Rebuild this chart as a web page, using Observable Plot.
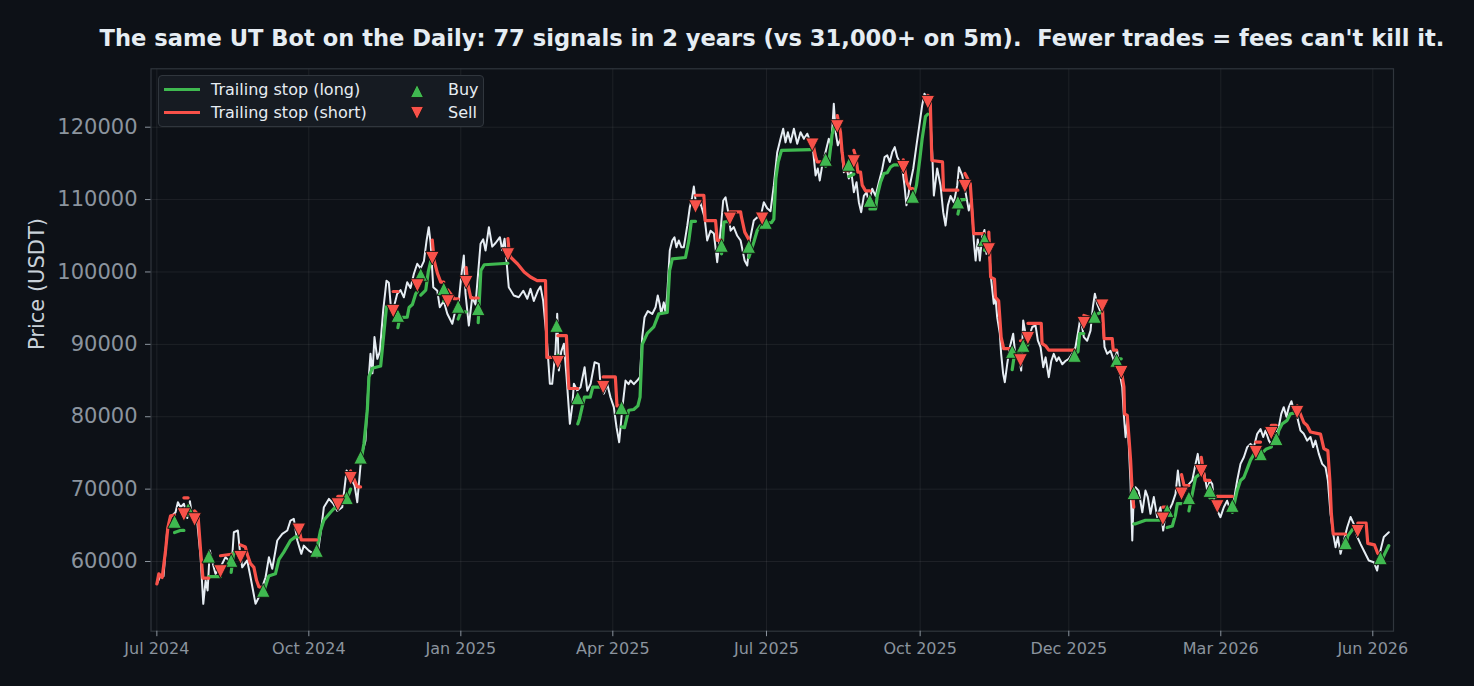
<!DOCTYPE html>
<html>
<head>
<meta charset="utf-8">
<script src="https://cdn.jsdelivr.net/npm/d3@7"></script>
<script src="https://cdn.jsdelivr.net/npm/@observablehq/plot@0.6"></script>
<style>
  html, body { margin: 0; padding: 0; background: #0d1117; }
  body { width: 1474px; height: 686px; overflow: hidden; font-family: "DejaVu Sans", sans-serif; }
  #wrap { position: relative; width: 1474px; height: 686px; }
  #title { height: 56px; box-sizing: border-box; padding-top: 25px; padding-left: 70px; line-height: 26px;
           text-align: center; font-weight: bold; font-size: 22.6px; color: #e6edf3; white-space: pre; }
  #legend { position: absolute; left: 158px; top: 75px; width: 326px; height: 52px; box-sizing: border-box;
            background: #161b22; border: 1px solid #30363d; border-radius: 4px; }
  #legend .sw { position: absolute; width: 36px; height: 3px; }
  #legend .lt { position: absolute; font-size: 16px; line-height: 20px; color: #e6edf3; white-space: nowrap; }
  #legend svg { position: absolute; }
</style>
</head>
<body>
<div id="wrap">
  <div id="title"></div>
  <div id="chart"></div>
  <div id="legend"></div>
</div>
<script>
// ---------------- data ----------------
const titleText = "The same UT Bot on the Daily: 77 signals in 2 years (vs 31,000+ on 5m).  Fewer trades = fees can't kill it.";
const yLabel = "Price (USDT)";
const legendLabels = ["Trailing stop (long)", "Trailing stop (short)", "Buy", "Sell"];

// x = days since 2024-07-01
const xTickDays = [0, 91, 182, 273, 365, 457, 546, 637, 728];
const xTickLabels = ["Jul 2024", "Oct 2024", "Jan 2025", "Apr 2025", "Jul 2025", "Oct 2025", "Dec 2025", "Mar 2026", "Jun 2026"];
const yTicks = [60000, 70000, 80000, 90000, 100000, 110000, 120000];

// daily close [day, price]
const closeSeries = [[0,56900],[2.2,58060],[4.0,58000],[6.2,64280],[8.2,66120],[11.2,66800],[12.6,68190],[14.2,67500],[16.2,67970],[18.2,66000],[19.8,68330],[21.2,66000],[24.2,65430],[26.2,60590],[27.8,54150],[29.2,57370],[30.4,56000],[31.7,61520],[33.2,60000],[35.1,58300],[38.1,59200],[41.1,60600],[44.1,59900],[45.1,60600],[46.1,64040],[48.5,64280],[49.7,61500],[51.1,59200],[54.1,60160],[56.1,57830],[59.1,54150],[61.1,55100],[65.1,57830],[67.1,60590],[69.1,59000],[72.1,62900],[75.1,63820],[78.1,64280],[80.0,65660],[82.0,65890],[84.1,62900],[86.5,61060],[88.0,62200],[91.0,61500],[94.0,61060],[96.0,60600],[98.0,63820],[100.0,67500],[103.0,68650],[105.6,68000],[108.0,67000],[111.0,67500],[113.6,72560],[116.0,71600],[118.4,70500],[120.0,68190],[122.4,74500],[124.9,76700],[126.9,85460],[127.9,88690],[129.1,86000],[130.3,91000],[132.0,88000],[133.5,89000],[135.5,94670],[137.5,98800],[138.9,98500],[140.3,94670],[142.3,95500],[143.9,96980],[145.9,97500],[147.9,96500],[149.9,98580],[151.9,97800],[153.9,99750],[155.9,101130],[157.9,100500],[159.9,101500],[161.5,104350],[162.8,106180],[163.9,104000],[165.5,97900],[167.9,97400],[169.4,95130],[171.8,96000],[173.9,94220],[176.9,92840],[178.8,94700],[180.8,96000],[182.2,99270],[183.8,102280],[184.8,97000],[186.8,92600],[188.8,96500],[190.8,95500],[193.8,103890],[195.4,104500],[196.8,102960],[198.8,106180],[200.8,103500],[202.8,104000],[205.4,104800],[206.8,103000],[208.2,104580],[210.7,97900],[213.7,96750],[216.7,96500],[219.4,97400],[221.8,96300],[223.7,97670],[225.7,96000],[228.1,97400],[229.7,98000],[231.3,96000],[233.7,90000],[235.3,84550],[236.7,84550],[238.7,89150],[239.7,94220],[240.7,86390],[242.1,89000],[243.7,90080],[245.3,85460],[247.3,79020],[248.7,81500],[249.7,84550],[251.7,83600],[253.7,84100],[256.1,86840],[257.7,83600],[259.7,84550],[262.1,87530],[264.6,87300],[265.6,84500],[267.6,83200],[269.7,84500],[271.6,82700],[273.6,81320],[275.2,78560],[276.8,76480],[278.6,81000],[280.6,85000],[282.4,84500],[283.6,85000],[285.6,84500],[287.6,85000],[289.2,85460],[290.6,91000],[292.0,93750],[294.0,94600],[296.6,94200],[298.6,95130],[299.9,96750],[301.1,95500],[302.0,94200],[303.5,95800],[304.6,94400],[305.6,96980],[307.1,102960],[308.6,104350],[309.9,104800],[311.1,103420],[312.5,104350],[314.0,103420],[315.5,103420],[317.6,106420],[319.1,108950],[320.5,110330],[321.5,111800],[323.1,108900],[325.5,109500],[327.9,107570],[329.5,104350],[331.5,105700],[333.5,105300],[335.5,101350],[337.5,105700],[339.1,109870],[340.5,110300],[341.9,108500],[343.5,105700],[345.4,106200],[347.5,105000],[349.5,104350],[351.9,101580],[353.5,100890],[355.0,104350],[357.4,107110],[359.5,107570],[361.4,107500],[363.4,109640],[365.4,108800],[367.4,108400],[369.4,111950],[371.4,116500],[373.4,118400],[375.0,119780],[376.4,117900],[377.8,119300],[379.4,117900],[381.4,119780],[383.4,117700],[385.4,119300],[387.4,118400],[389.4,119100],[391.4,117900],[393.0,116550],[394.4,113330],[395.7,114300],[396.9,112640],[398.4,114800],[400.4,116600],[402.3,118400],[403.8,117500],[405.3,123230],[406.5,119100],[407.7,117500],[409.3,118400],[411.3,113780],[412.7,114700],[414.3,112900],[415.7,114000],[417.3,111020],[418.9,112400],[420.3,109640],[421.7,108260],[423.3,110500],[424.9,111000],[426.3,109600],[428.3,111500],[430.3,110500],[432.3,112400],[434.3,114200],[435.7,115860],[437.3,116100],[438.8,115200],[440.3,116550],[441.8,117240],[443.3,115860],[444.8,115200],[446.3,114300],[447.6,111950],[448.8,109200],[449.9,110500],[450.8,111950],[452.9,114300],[454.8,117500],[456.8,120690],[458.2,123000],[459.6,124610],[461.2,124000],[462.8,122500],[464.2,116550],[465.2,110560],[467.2,114300],[469.2,111950],[470.8,108260],[472.2,106420],[473.6,109200],[475.2,110500],[477.2,109600],[479.2,111950],[480.2,114470],[482.2,113300],[484.2,111000],[486.1,108500],[487.8,110000],[489.1,104350],[490.2,101580],[491.5,104500],[492.7,101580],[494.2,105000],[495.5,105800],[496.7,102500],[498.1,103700],[499.6,98800],[501.1,95600],[502.1,96500],[503.1,93750],[504.7,91500],[505.5,88690],[506.7,85930],[507.7,84770],[509.1,87250],[510.7,89600],[512.7,91460],[514.1,88200],[515.7,89100],[517.5,86390],[518.7,93290],[520.1,91460],[522.1,91000],[524.1,92400],[526.1,92600],[527.5,90500],[529.1,89600],[530.7,86850],[532.1,88200],[534.0,85460],[535.5,87700],[537.0,88690],[538.7,87700],[540.0,88200],[542.1,87250],[544.0,87700],[546.0,88000],[548.0,88690],[550.0,89600],[551.4,91460],[553.0,93750],[555.0,91000],[557.0,90500],[559.0,91900],[560.4,95130],[561.6,96980],[563.0,95600],[564.6,94700],[566.0,94900],[567.4,89600],[569.0,88690],[571.0,89100],[573.0,87700],[575.0,89100],[576.5,85930],[578.0,84100],[578.9,80400],[580.0,77170],[581.0,79470],[581.9,76100],[582.9,71190],[584.0,62900],[584.9,69350],[585.9,70270],[587.8,69800],[590.0,66800],[591.9,69800],[593.3,68900],[594.9,66590],[596.9,68900],[598.9,66150],[600.9,67500],[602.5,64280],[603.9,66590],[605.9,67040],[607.9,67960],[609.9,69350],[611.3,72560],[612.5,70270],[613.9,69350],[615.9,69800],[617.9,70700],[619.9,71200],[621.9,73490],[623.2,74870],[624.9,72000],[626.8,72560],[628.9,69800],[630.4,71200],[631.9,70700],[633.2,67960],[634.9,67040],[636.8,66120],[638.8,67500],[640.8,68400],[642.8,67040],[644.8,68400],[646.8,71200],[648.8,73490],[650.8,74400],[652.8,75800],[654.8,76250],[656.8,75800],[658.8,77640],[660.8,78300],[662.4,77200],[663.8,78100],[665.8,76700],[667.8,76000],[669.8,77640],[671.7,78560],[673.2,80400],[674.7,81320],[676.3,80000],[677.7,81320],[679.3,82140],[680.7,80900],[682.7,80000],[684.7,78100],[686.7,77640],[688.7,76700],[690.7,77200],[692.3,75800],[693.7,76700],[695.7,74870],[697.7,73490],[699.7,73000],[701.1,71200],[702.7,66590],[704.3,63820],[705.7,61980],[707.1,63400],[708.7,61060],[710.7,62900],[712.7,64740],[714.7,66150],[716.6,65200],[718.7,63400],[720.7,62400],[722.6,61520],[725.6,60140],[728.6,59900],[730.6,58750],[732.6,61520],[734.6,63400],[737.6,64040]];

// trailing stop [day, value, side]  L = long, S = short
const stopPts = [
[0,56900,"S"],[1.2,58300,"S"],[3.2,57800,"S"],[5.2,61500,"S"],[6.6,64700,"S"],[8.2,66300,"S"],[10.6,66400,"S"],
[10.6,64000,"L"],[14,64300,"L"],[16.2,64300,"L"],
[16.2,68800,"S"],[18.7,68800,"S"],
[18.7,66800,"L"],[22.6,66800,"L"],
[22.6,67000,"S"],[24.6,66500,"S"],[26.2,61500,"S"],[27.6,57700,"S"],[31.1,57700,"S"],
[31.1,57900,"L"],[38.1,57900,"L"],
[38.1,60800,"S"],[44.5,61000,"S"],
[44.5,58500,"L"],[46,61200,"L"],[50.1,61200,"L"],
[50.1,62300,"S"],[53,62000,"S"],[54.1,61000,"S"],[56.1,59700,"S"],[58.1,59200,"S"],[59.7,57400,"S"],[61.1,56500,"S"],[63.7,56300,"S"],
[63.7,55600,"L"],[67,58000,"L"],[71,58300,"L"],[73.1,60300,"L"],[76,61300,"L"],[80,62900,"L"],[83,63400,"L"],[85,63400,"L"],
[85,64500,"S"],[86.5,63000,"S"],[95.6,63000,"S"],
[95.6,61500,"L"],[98,64300,"L"],[100,65700,"L"],[104,66800,"L"],[106,67300,"L"],[108.4,67600,"L"],
[108.4,69000,"S"],[113.6,69000,"S"],
[113.6,68500,"L"],[116,70000,"L"],
[116,72500,"S"],[120,70300,"S"],[122,70300,"S"],
[122,73500,"L"],[124,76300,"L"],[126,80900,"L"],[127,85500,"L"],[129,86700,"L"],[134,87000,"L"],[135.9,91500,"L"],[137.5,95200,"L"],[141.5,95300,"L"],
[141.5,97300,"S"],[144.3,97300,"S"],
[144.3,92300,"L"],[145.5,93700,"L"],[149.9,93750,"L"],[151,95100,"L"],[153,95500,"L"],[155,97000,"L"],[156,97300,"L"],
[156,99000,"S"],[158,99000,"S"],
[158,96800,"L"],[161,97500,"L"],[162.5,100000,"L"],[164,101500,"L"],[164.9,101800,"L"],
[164.9,104400,"S"],[166,101600,"S"],[168,99800,"S"],[170,98600,"S"],[171.8,98600,"S"],
[171.8,96000,"L"],[174.2,96000,"L"],
[174.2,97500,"S"],[178,96300,"S"],[180.4,96300,"S"],
[180.4,93500,"L"],[182,94500,"L"],[185.2,94500,"L"],
[185.2,100600,"S"],[186,98500,"S"],[188,96400,"S"],[192.4,96400,"S"],
[192.4,93000,"L"],[194,100200,"L"],[196,101000,"L"],[210.2,101200,"L"],
[210.2,104600,"S"],[211,102500,"S"],[212,102000,"S"],[216,101100,"S"],[219.9,100000,"S"],[223.7,99300,"S"],[227.7,98800,"S"],[232.7,98800,"S"],[233.5,88200,"S"],[239.3,88200,"S"],
[239.3,88000,"L"],[240.1,88500,"L"],
[240.1,91200,"S"],[245.2,91200,"S"],[246.7,83900,"S"],[252,83900,"S"],
[252,79000,"L"],[253,79700,"L"],[256,82700,"L"],[259.5,82700,"L"],[261,84100,"L"],[267.2,84100,"L"],
[267.2,85500,"S"],[274.5,85500,"S"],[275.5,81500,"S"],[278.2,81500,"S"],
[278.2,78600,"L"],[280,78500,"L"],[282.5,80900,"L"],[285.5,81000,"L"],[288,81500,"L"],[289.3,82700,"L"],[290.6,90000,"L"],[293.6,91500,"L"],[297.5,92400,"L"],[300.5,94200,"L"],[305.6,94400,"L"],[307,100200,"L"],[308.6,101800,"L"],[316.5,102000,"L"],[318.5,104300,"L"],[320,107000,"L"],[322.5,107000,"L"],
[322.5,110600,"S"],[327.5,110600,"S"],[328.3,107100,"S"],[334.5,107100,"S"],[335.5,104350,"S"],[338.1,104350,"S"],
[338.1,102500,"L"],[339.5,106900,"L"],[343.1,107000,"L"],
[343.1,108300,"S"],[349.5,108300,"S"],[350,107600,"S"],[352,105500,"S"],[354.4,104500,"S"],
[354.4,102000,"L"],[357.4,104100,"L"],[359.4,105700,"L"],[361.4,106400,"L"],[362.4,106400,"L"],
[362.4,108000,"S"],[364.4,108000,"S"],
[364.4,106800,"L"],[368,106800,"L"],[369.4,107300,"L"],[370.6,112900,"L"],[372,115200,"L"],[374,116800,"L"],[391.4,116900,"L"],[392.4,116900,"L"],
[392.4,118200,"S"],[394.4,115900,"S"],[395.4,115200,"S"],[400.4,115200,"S"],
[400.4,114600,"L"],[402.4,115300,"L"],[404.3,119000,"L"],[406,120500,"L"],[407.4,120500,"L"],
[407.4,121600,"S"],[409.3,119300,"S"],[410.3,116500,"S"],[411.7,114000,"S"],[414.3,114000,"S"],
[414.3,113200,"L"],[417.3,113500,"L"],
[417.3,116800,"S"],[418.5,115900,"S"],[419.7,113800,"S"],[421.3,113800,"S"],[422.3,112000,"S"],[424.3,111200,"S"],[426.9,111200,"S"],
[426.9,108700,"L"],[430.3,108700,"L"],[431.3,110500,"L"],[433.3,112400,"L"],[435.3,113600,"L"],[437.3,113700,"L"],[439.3,114500,"L"],[441.3,114800,"L"],[446.9,114800,"L"],
[446.9,115500,"S"],[449,112400,"S"],[451,111500,"S"],[452.6,111500,"S"],
[452.6,110000,"L"],[454.8,112000,"L"],[456.8,115600,"L"],[458.2,118400,"L"],[460.2,121500,"L"],[461.6,121800,"L"],
[461.6,124400,"S"],[463,124000,"S"],[464,115400,"S"],[470.4,115200,"S"],[471,111300,"S"],[479.6,111300,"S"],
[479.6,108000,"L"],[481.5,110000,"L"],[483.8,110000,"L"],
[483.8,113600,"S"],[487,112200,"S"],[489,105300,"S"],[495.5,105300,"S"],
[495.5,103000,"L"],[498.1,104500,"L"],
[498.1,105500,"S"],[499.2,99300,"S"],[501.5,99000,"S"],[502.1,96500,"S"],[504,96000,"S"],[505.5,91000,"S"],[507,89400,"S"],[512.1,89400,"S"],
[512.1,86500,"L"],[513.5,88700,"L"],[517.1,88700,"L"],
[517.1,90500,"S"],[518.7,90500,"S"],
[518.7,89000,"L"],[521.5,90000,"L"],
[521.5,92900,"S"],[529.5,92900,"S"],[530,90100,"S"],[532.1,89800,"S"],[534,89200,"S"],[549.4,89200,"S"],
[549.4,88500,"L"],[551.5,89000,"L"],[552.5,91500,"L"],[555,91500,"L"],
[555,94000,"S"],[561.4,93500,"S"],
[561.4,94000,"L"],[566,94500,"L"],
[566,95600,"S"],[567.1,90800,"S"],[572,90800,"S"],[572.6,89200,"S"],[574.6,89200,"S"],
[574.6,88000,"L"],[577.4,88000,"L"],
[577.4,86400,"S"],[579,84100,"S"],[579.4,80400,"S"],[581,80200,"S"],[582,77200,"S"],[583,74000,"S"],[584,69400,"S"],[584.9,67500,"S"],
[584.9,65200,"L"],[586,65200,"L"],[591.9,65700,"L"],[602.3,65700,"L"],
[602.3,67500,"S"],[604.9,67500,"S"],
[604.9,64700,"L"],[608,64900,"L"],[609.9,66500,"L"],[611,68000,"L"],[613.5,68000,"L"],
[613.5,72000,"S"],[615,70500,"S"],[617.9,70500,"S"],
[617.9,67000,"L"],[619.9,69300,"L"],[621.9,71600,"L"],[623.9,72000,"L"],[625.3,72000,"L"],
[625.3,74400,"S"],[626.5,72500,"S"],[627.5,71200,"S"],[630.4,71200,"S"],
[630.4,68800,"L"],[634.9,69000,"L"],
[634.9,69000,"S"],[643.9,69000,"S"],
[643.9,66800,"L"],[646.8,69800,"L"],[648.8,71200,"L"],[650.8,71600,"L"],[652.8,72800,"L"],[654.8,74000,"L"],[656.8,74800,"L"],[658,74900,"L"],
[658,76500,"S"],[660.8,76500,"S"],
[660.8,74800,"L"],[664,75500,"L"],[667.2,75800,"L"],
[667.2,78800,"S"],[670.2,78800,"S"],
[670.2,76500,"L"],[671.7,78100,"L"],[673.7,79000,"L"],[676.7,79500,"L"],[678.7,80400,"L"],[682.7,80600,"L"],
[682.7,81500,"S"],[686.7,79200,"S"],[688.7,78800,"S"],[690.7,77900,"S"],[696.7,77600,"S"],[698.7,75600,"S"],[701.1,75300,"S"],[702.3,71200,"S"],[703.2,66600,"S"],[704.3,63800,"S"],[711.7,63800,"S"],
[711.7,62000,"L"],[713,63500,"L"],[716.7,64700,"L"],[719,64700,"L"],
[719,65300,"S"],[724,65300,"S"],[725,62500,"S"],[729,62300,"S"],[731,61100,"S"],[732.6,61100,"S"],
[732.6,59800,"L"],[735,61000,"L"],[737.6,62200,"L"]
];

// signals [day, close, type]
const signals = [
[10.6,65530,"Buy"],[16.2,66490,"Sell"],[18.7,67200,"Buy"],[22.6,65800,"Sell"],[31.1,60730,"Buy"],[38.1,58620,"Sell"],
[44.5,60140,"Buy"],[50.1,60590,"Sell"],[63.7,56000,"Buy"],[85.0,64370,"Sell"],[95.6,61520,"Buy"],[108.4,67870,"Sell"],
[113.6,68800,"Buy"],[116.0,71500,"Sell"],[122.0,74400,"Buy"],[141.5,94580,"Sell"],[144.3,93980,"Buy"],[156.0,98130,"Sell"],
[158.0,99650,"Buy"],[164.9,101900,"Sell"],[171.8,97670,"Buy"],[174.2,95920,"Sell"],[180.4,95230,"Buy"],[185.2,98580,"Sell"],
[192.4,94910,"Buy"],[210.2,102410,"Sell"],[239.3,92600,"Buy"],[240.1,87530,"Sell"],[252.0,82600,"Buy"],[267.2,84080,"Sell"],
[278.2,81230,"Buy"],[322.5,109040,"Sell"],[338.1,103660,"Buy"],[343.1,107340,"Sell"],[354.4,103520,"Buy"],[362.4,107340,"Sell"],
[364.4,106830,"Buy"],[392.4,117570,"Sell"],[400.4,115540,"Buy"],[407.4,120100,"Sell"],[414.3,114850,"Buy"],[417.3,115260,"Sell"],
[426.9,109870,"Buy"],[446.9,114470,"Sell"],[452.6,110430,"Buy"],[461.6,123450,"Sell"],[479.6,109640,"Buy"],[483.8,111850,"Sell"],
[495.5,104480,"Buy"],[498.1,103100,"Sell"],[512.1,89010,"Buy"],[517.1,87770,"Sell"],[518.7,89840,"Buy"],[521.5,90850,"Sell"],
[549.4,88460,"Buy"],[555.0,92920,"Sell"],[561.4,93850,"Buy"],[566.0,95330,"Sell"],[574.6,87770,"Buy"],[577.4,86150,"Sell"],
[584.9,69490,"Buy"],[602.3,65890,"Sell"],[604.9,67040,"Buy"],[613.5,69350,"Sell"],[617.9,68800,"Buy"],[625.3,72470,"Sell"],
[630.4,69800,"Buy"],[634.9,67600,"Sell"],[643.9,67730,"Buy"],[658.0,75100,"Sell"],[660.8,74870,"Buy"],[667.2,77720,"Sell"],
[670.2,76950,"Buy"],[682.7,80630,"Sell"],[711.7,62580,"Buy"],[719.0,64180,"Sell"],[732.6,60500,"Buy"]
];

// ---------------- styling ----------------
const GREEN = "#3fb950", RED = "#f85149", WHITE = "#e6edf3";

document.getElementById("title").textContent = titleText;

// segment ids for the stop line
let seg = 0;
const stopData = stopPts.map((p, i) => {
  if (i > 0 && p[2] !== stopPts[i - 1][2]) seg++;
  return {day: p[0], value: p[1], side: p[2], seg};
});
const closeData = closeSeries.map(([day, value]) => ({day, value}));
const sigData = signals.map(([day, value, type]) => ({day, value, type}));

const triUp = {draw(ctx, size) { const r = Math.sqrt(size / Math.PI); ctx.moveTo(0, -r); ctx.lineTo(r, r); ctx.lineTo(-r, r); ctx.closePath(); }};
const triDown = {draw(ctx, size) { const r = Math.sqrt(size / Math.PI); ctx.moveTo(0, r); ctx.lineTo(r, -r); ctx.lineTo(-r, -r); ctx.closePath(); }};

const xLabelMap = new Map(xTickDays.map((d, i) => [d, xTickLabels[i]]));

const chart = Plot.plot({
  width: 1474,
  height: 630,
  marginLeft: 150.5,
  marginRight: 81,
  marginTop: 12.3,
  marginBottom: 55.3,
  style: {background: "transparent", color: "#8b949e", fontFamily: "DejaVu Sans, sans-serif", overflow: "visible"},
  x: {domain: [-3.5, 740.4]},
  y: {domain: [50373, 128066]},
  marks: [
    Plot.gridY(yTicks, {stroke: "#ffffff", strokeOpacity: 0.07, strokeWidth: 1}),
    Plot.gridX(xTickDays, {stroke: "#ffffff", strokeOpacity: 0.07, strokeWidth: 1}),
    Plot.frame({stroke: "#30363d", strokeWidth: 1.2}),
    Plot.axisY(yTicks, {tickSize: 5.5, tickPadding: 8, fontSize: 21, tickFormat: d3.format("d"), label: null, stroke: "#8b949e", fill: "#8b949e"}),
    Plot.axisX(xTickDays, {tickSize: 5.5, tickPadding: 6, fontSize: 16, tickFormat: d => xLabelMap.get(d), label: null, stroke: "#8b949e", fill: "#8b949e"}),
    Plot.text([yLabel], {frameAnchor: "left", dx: -113.5, rotate: -90, fontSize: 21, fill: "#c9d1d9"}),
    Plot.line(closeData, {x: "day", y: "value", stroke: WHITE, strokeWidth: 2}),
    Plot.line(stopData.filter(d => d.side === "L"), {x: "day", y: "value", z: "seg", stroke: GREEN, strokeWidth: 3.2}),
    Plot.line(stopData.filter(d => d.side === "S"), {x: "day", y: "value", z: "seg", stroke: RED, strokeWidth: 3.2}),
    Plot.dot(sigData.filter(d => d.type === "Buy"), {x: "day", y: "value", symbol: triUp, r: 6.8, fill: GREEN, stroke: "#111111", strokeWidth: 0.9}),
    Plot.dot(sigData.filter(d => d.type === "Sell"), {x: "day", y: "value", symbol: triDown, r: 6.8, fill: RED, stroke: "#111111", strokeWidth: 0.9})
  ]
});
document.getElementById("chart").appendChild(chart);

// legend
const lg = document.getElementById("legend");
lg.innerHTML =
  `<div class="sw" style="left:5px;top:12px;background:${GREEN}"></div>` +
  `<div class="lt" style="left:52px;top:4px">${legendLabels[0]}</div>` +
  `<div class="sw" style="left:5px;top:35px;background:${RED}"></div>` +
  `<div class="lt" style="left:52px;top:27px">${legendLabels[1]}</div>` +
  `<svg style="left:251px;top:7.5px" width="14" height="14"><path d="M7,0.5L13.5,13.5L0.5,13.5Z" fill="${GREEN}" stroke="#111111" stroke-width="0.8"/></svg>` +
  `<div class="lt" style="left:289px;top:4px">${legendLabels[2]}</div>` +
  `<svg style="left:251px;top:30px" width="14" height="14"><path d="M7,13.5L13.5,0.5L0.5,0.5Z" fill="${RED}" stroke="#111111" stroke-width="0.8"/></svg>` +
  `<div class="lt" style="left:289px;top:27px">${legendLabels[3]}</div>`;
</script>
</body>
</html>
